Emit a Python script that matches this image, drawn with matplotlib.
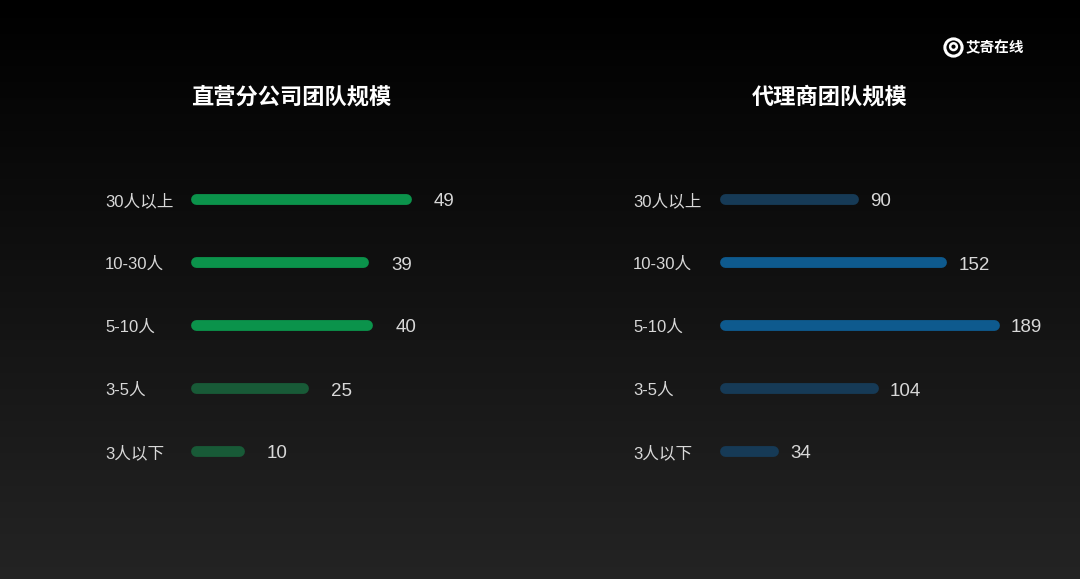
import matplotlib
matplotlib.use("Agg")
import matplotlib.pyplot as plt
import numpy as np
from matplotlib.patches import Circle

plt.rcParams['font.family'] = ['Noto Sans CJK SC', 'DejaVu Sans']

categories = ["30人以上", "10-30人", "5-10人", "3-5人", "3人以下"]
direct_values = [49, 39, 40, 25, 10]
agent_values = [90, 152, 189, 104, 34]
direct_title = "直营分公司团队规模"
agent_title = "代理商团队规模"
direct_colors = ["#0b934b", "#0b934b", "#0b934b", "#185a37", "#185a37"]
agent_colors = ["#163a56", "#0e5a8e", "#0e5a8e", "#163a56", "#163a56"]

W, H = 1080, 579
fig = plt.figure(figsize=(W / 100, H / 100), dpi=100)

# background gradient
bg = fig.add_axes([0, 0, 1, 1])
grad = np.linspace(0.0, 0.14, 256).reshape(-1, 1)
bg.imshow(np.dstack([grad, grad, grad]), aspect='auto', extent=[0, 1, 0, 1], origin='upper')
bg.set_axis_off()

row_gap = 63.0
first_row = 199.0
label_fam = ['Liberation Sans', 'Noto Sans CJK SC', 'DejaVu Sans']


def panel(x0, x1, vmax, values, colors, title, title_x, label_x, val_off):
    n = len(values)
    top = first_row - row_gap / 2
    height = row_gap * n
    ax = fig.add_axes([x0 / W, 1 - (top + height) / H, (x1 - x0) / W, height / H])
    ax.set_xlim(0, vmax)
    ax.set_ylim(n - 0.5, -0.5)
    ax.set_axis_off()
    for i, (v, c) in enumerate(zip(values, colors)):
        ax.plot([0, v], [i, i], color=c, lw=7.8, solid_capstyle='round', clip_on=False)
        ax.annotate(categories[i], xy=(0, i), xytext=(label_x - x0, -2),
                    textcoords='offset pixels', ha='left', va='center',
                    color='#d8d8d8', fontsize=12, family=label_fam)
        ax.annotate(str(v), xy=(v, i), xytext=(val_off, -3),
                    textcoords='offset pixels', ha='left', va='center',
                    color='#d8d8d8', fontsize=13.5, family=['Liberation Sans', 'DejaVu Sans'])
    fig.text(title_x / W, 1 - 97 / H, title, ha='center', va='center',
             color='white', fontsize=16, fontweight='bold')


panel(196, 406, 49, direct_values, direct_colors, direct_title, 291, 105, 28)
panel(725, 994, 189, agent_values, agent_colors, agent_title, 830, 633, 17)

# logo
lax = fig.add_axes([943 / W, 1 - 58 / H, 21 / W, 21 / H])
lax.set_xlim(-1, 1)
lax.set_ylim(-1, 1)
lax.set_aspect('equal')
lax.set_axis_off()
lax.add_patch(Circle((0, 0), 0.82, fill=False, edgecolor='white', lw=2.2))
lax.add_patch(Circle((0, 0.08), 0.32, fill=False, edgecolor='white', lw=1.8))
fig.text(966 / W, 1 - 47 / H, "艾奇在线", ha='left', va='center', color='white',
         fontsize=10.5, fontweight='bold')

fig.savefig("out.png", dpi=100)
